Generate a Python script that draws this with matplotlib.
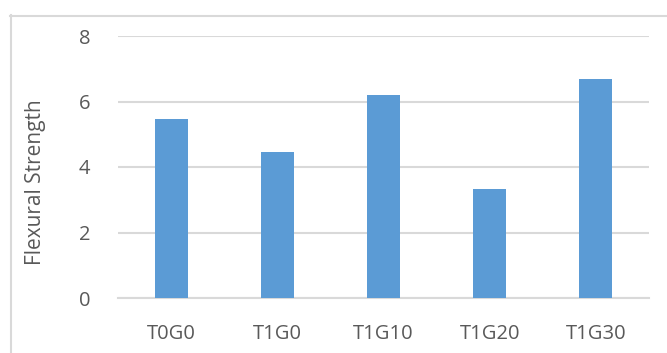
import matplotlib
matplotlib.use("Agg")
import matplotlib.pyplot as plt
from matplotlib.lines import Line2D

categories = ["T0G0", "T1G0", "T1G10", "T1G20", "T1G30"]
flexural_strength = [5.47, 4.46, 6.2, 3.33, 6.69]
y_ticks = [0, 2, 4, 6, 8]

W, H = 667, 353
fig = plt.figure(figsize=(W / 100, H / 100), dpi=100)
plt.rcParams["font.family"] = ["Open Sans", "DejaVu Sans"]

ax = fig.add_axes([118 / W, 1 - 298 / H, (649 - 118) / W, (298 - 36) / H])
bar_color = "#5b9bd5"
text_color = "#595959"
grid_color = "#d9d9d9"

x = list(range(len(categories)))
ax.bar(x, flexural_strength, width=0.31, color=bar_color, zorder=3)

ax.set_xlim(-0.5, len(categories) - 0.5)
ax.set_ylim(0, 8)
ax.set_yticks(y_ticks)
ax.set_xticks(x)
ax.set_xticklabels(categories)
ax.yaxis.grid(True, color=grid_color, linewidth=1.5, zorder=0)
for s in ["top", "right", "left"]:
    ax.spines[s].set_visible(False)
ax.spines["bottom"].set_color(grid_color)
ax.spines["bottom"].set_linewidth(1.5)
ax.tick_params(axis="both", length=0, labelsize=14.5, colors=text_color)
ax.tick_params(axis="y", pad=20)
ax.tick_params(axis="x", pad=19)
ax.set_ylabel("Flexural Strength", fontsize=15, color=text_color)
ax.yaxis.set_label_coords((46.5 - 118) / (649 - 118), (298 - 182.5) / (298 - 36))

# chart area border (top and left edges visible)
fig.add_artist(Line2D([10.5 / W, 10.5 / W], [0, 1 - 15 / H], transform=fig.transFigure,
                      color=grid_color, linewidth=1.5))
fig.add_artist(Line2D([10 / W, 1], [1 - 15.5 / H, 1 - 15.5 / H], transform=fig.transFigure,
                      color=grid_color, linewidth=1.5))

fig.savefig("out.png", dpi=100, facecolor="white")
